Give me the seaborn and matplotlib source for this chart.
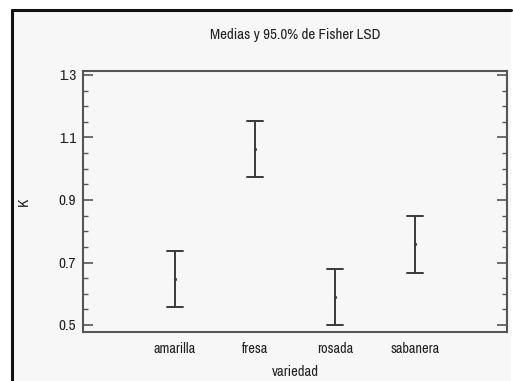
import matplotlib
matplotlib.use("Agg")
import matplotlib.pyplot as plt
import seaborn as sns
import pandas as pd
from matplotlib.patches import Rectangle
from matplotlib.lines import Line2D
from matplotlib.ticker import MultipleLocator

categories = ["amarilla", "fresa", "rosada", "sabanera"]
means = [0.647, 1.064, 0.589, 0.758]
half_width = [0.090, 0.090, 0.089, 0.091]
yticks = [0.5, 0.7, 0.9, 1.1, 1.3]

rows = []
for c, m, h in zip(categories, means, half_width):
    for v in (m - h, m, m + h):
        rows.append({"variedad": c, "K": v})
df = pd.DataFrame(rows)

sns.set_theme(style="white")
plt.rcParams["font.family"] = ["Liberation Sans Narrow", "Archivo Narrow", "Liberation Sans", "DejaVu Sans"]

W, H = 513, 381
fig = plt.figure(figsize=(W / 100, H / 100), dpi=100, facecolor="white")

bg = "#f7f7f7"
fig.patches.append(Rectangle((12 / W, 0), (511 - 12) / W, 1 - 10 / H,
                             transform=fig.transFigure, facecolor=bg,
                             edgecolor="none", zorder=-10))
fig.lines.append(Line2D([12 / W, 12 / W], [0, 1 - 10 / H], transform=fig.transFigure,
                        color="#111111", lw=2.2, zorder=-5))
fig.lines.append(Line2D([12 / W, 511 / W], [1 - 10 / H, 1 - 10 / H], transform=fig.transFigure,
                        color="#111111", lw=2.2, zorder=-5))

ax = fig.add_axes([83 / W, 1 - 332 / H, (507 - 83) / W, (332 - 71) / H])
ax.set_zorder(5)
ax.set_facecolor(bg)

sns.pointplot(data=df, x="variedad", y="K", order=categories,
              estimator="median", errorbar=("pi", 100), capsize=0.2,
              linestyle="none", color="#3a3a3a", markers="o",
              markersize=1.8, markeredgewidth=0.5, err_kws={"linewidth": 1.4}, ax=ax)

ax.set_xlim(-1.15, 4.15)
ax.set_ylim(0.4776, 1.3128)
ax.set_yticks(yticks)
ax.set_yticklabels([f"{t:.1f}" for t in yticks])
ax.yaxis.set_minor_locator(MultipleLocator(0.05))

txt = "#222222"
ax.tick_params(axis="y", which="major", direction="in", length=7, width=1.2,
               color="#555555", left=True, right=True, labelsize=11, pad=5,
               labelcolor=txt)
ax.tick_params(axis="y", which="minor", direction="in", length=3.5, width=1.0,
               color="#555555", left=True, right=True)
ax.tick_params(axis="x", length=0, labelsize=10.3, pad=7, labelcolor=txt)

for s in ax.spines.values():
    s.set_visible(True)
    s.set_color("#555555")
    s.set_linewidth(1.5)

ax.set_xlabel("variedad", fontsize=10.5, color=txt)
ax.set_ylabel("K", fontsize=11, color=txt)
ax.xaxis.set_label_coords(0.5, (332 - 365) / (332 - 71))
ax.yaxis.set_label_coords((31 - 83) / (507 - 83), 0.5)

fig.text(295 / W, 1 - 35 / H, "Medias y 95.0% de Fisher LSD", ha="center", va="center",
         fontsize=10.8, color=txt)

fig.savefig("out.png", dpi=100, facecolor="white")
